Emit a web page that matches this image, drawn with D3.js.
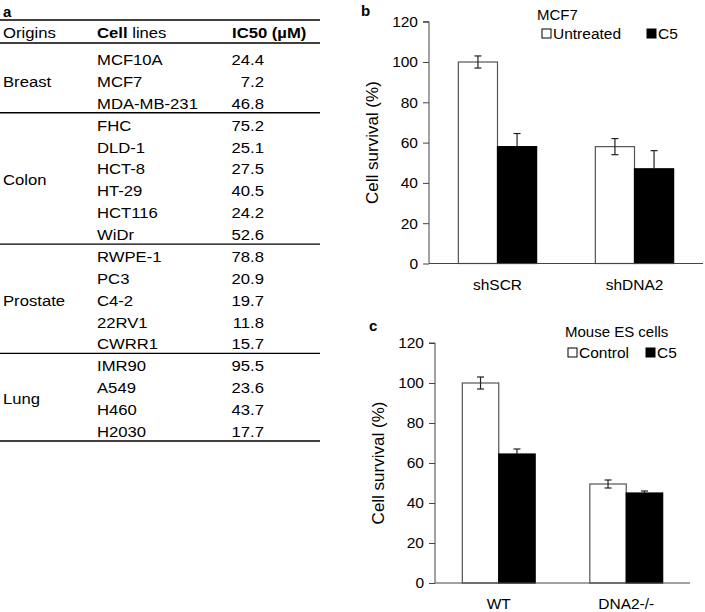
<!DOCTYPE html>
<html><head><meta charset="utf-8">
<script src="https://cdn.jsdelivr.net/npm/d3@7"></script>
<style>
html,body{margin:0;padding:0;background:#fff;}
svg{display:block;font-family:"Liberation Sans",Arial,Helvetica,sans-serif;}
</style></head>
<body>
<svg id="c" width="705" height="612"></svg>
<script>
// ---- Panel a data ----
const origins = ["Breast","Colon","Prostate","Lung"];
const cellLines = [
  ["MCF10A","MCF7","MDA-MB-231"],
  ["FHC","DLD-1","HCT-8","HT-29","HCT116","WiDr"],
  ["RWPE-1","PC3","C4-2","22RV1","CWRR1"],
  ["IMR90","A549","H460","H2030"]
];
const ic50 = [
  ["24.4","7.2","46.8"],
  ["75.2","25.1","27.5","40.5","24.2","52.6"],
  ["78.8","20.9","19.7","11.8","15.7"],
  ["95.5","23.6","43.7","17.7"]
];
// ---- Panel b data ----
const bCategories = ["shSCR","shDNA2"];
const bSeries = ["Untreated","C5"];
const bValues = [[100,58],[58,47]];
const bErrors = [[3,6.5],[4,9]];
// ---- Panel c data ----
const cCategories = ["WT","DNA2-/-"];
const cSeries = ["Control","C5"];
const cValues = [[100,64.5],[49.5,45]];
const cErrors = [[3,2.5],[2,1]];
const yTicks = [0,20,40,60,80,100,120];

const svg = d3.select("#c");
const FF = "'Liberation Sans',Arial,sans-serif";

// ================= Panel a =================
(function(){
  const g = svg.append("g");
  const rows = [];
  cellLines.forEach((grp,gi)=>grp.forEach((c,ci)=>rows.push({o:gi,c:c,v:ic50[gi][ci]})));
  const y = d3.scalePoint().domain(d3.range(rows.length)).range([60,432]);
  const fs = 14.5, sx = 1.15;
  const tx = (sel,x,yy)=>sel.attr("transform",`translate(${x},${yy}) scale(${sx},1)`);
  g.append("text").attr("x",3).attr("y",17).attr("font-size",15).attr("font-weight","bold").text("a");
  const hy = 38;
  tx(g.append("text").attr("font-size",fs).text("Origins"),3,hy);
  const t2 = tx(g.append("text").attr("font-size",fs),97,hy);
  t2.append("tspan").attr("font-weight","bold").text("Cell");
  t2.append("tspan").text(" lines");
  tx(g.append("text").attr("font-size",fs).attr("font-weight","bold").text("IC50 (µM)"),232,hy);
  const line = (yy,w)=>g.append("line").attr("x1",0).attr("x2",320).attr("y1",yy).attr("y2",yy).attr("stroke","#000").attr("stroke-width",w);
  line(20,1.6); line(43,1.3);
  g.selectAll("text.cl").data(rows).join("text").attr("class","cl")
    .attr("transform",(d,i)=>`translate(97,${y(i)+5}) scale(${sx},1)`).attr("font-size",fs).text(d=>d.c);
  g.selectAll("text.v").data(rows).join("text").attr("class","v")
    .attr("text-anchor","end")
    .attr("transform",(d,i)=>`translate(264,${y(i)+5}) scale(${sx},1)`).attr("font-size",fs).text(d=>d.v);
  let idx=0;
  origins.forEach((o,gi)=>{
    const n = cellLines[gi].length;
    const mid = (y(idx)+y(idx+n-1))/2;
    tx(g.append("text").attr("font-size",fs).text(o),3,mid+5);
    idx += n;
    line(y(idx-1)+9, gi===origins.length-1?1.6:1.3);
  });
})();

// ================= Bar panels =================
function barPanel(opt){
  const g = svg.append("g");
  const y = d3.scaleLinear().domain([0,120]).range([opt.y0,opt.y1]);
  const x0 = d3.scaleBand().domain(opt.cats).range([opt.xl,opt.xr]);
  const x1 = d3.scaleBand().domain(opt.series).range([0,x0.bandwidth()]).paddingOuter(0.75);
  // y axis
  const ax = g.append("g").attr("transform",`translate(${opt.xl},0)`)
    .call(d3.axisLeft(y).tickValues(yTicks).tickSize(6).tickPadding(5));
  ax.select(".domain").attr("stroke","#444").attr("d",`M-6,${y(120)}H0V${y(0)}`);
  ax.selectAll(".tick line").attr("stroke","#444");
  ax.selectAll(".tick text").attr("font-size",15.5).attr("fill","#000").attr("font-family",FF);
  // bars
  opt.cats.forEach((c,ci)=>{
    opt.series.forEach((s,si)=>{
      const v = opt.values[ci][si], e = opt.errors[ci][si];
      const bx = x0(c)+x1(s), bw = x1.bandwidth();
      g.append("rect").attr("x",bx).attr("y",y(v)).attr("width",bw).attr("height",y(0)-y(v))
        .attr("fill",si===0?"#fff":"#000").attr("stroke",si===0?"#555":"#000").attr("stroke-width",1.2);
      const cx = bx+bw/2;
      g.append("line").attr("x1",cx).attr("x2",cx).attr("y1",y(v+e)).attr("y2",si===0?y(v-e):y(v))
        .attr("stroke","#222").attr("stroke-width",1.2);
      g.append("line").attr("x1",cx-3.5).attr("x2",cx+3.5).attr("y1",y(v+e)).attr("y2",y(v+e))
        .attr("stroke","#222").attr("stroke-width",1.2);
      if(si===0) g.append("line").attr("x1",cx-3.5).attr("x2",cx+3.5).attr("y1",y(v-e)).attr("y2",y(v-e))
        .attr("stroke","#222").attr("stroke-width",1.2);
    });
  });
  // x axis
  const xa = g.append("g").attr("transform",`translate(0,${y(0)})`).call(d3.axisBottom(x0).tickSize(0).tickPadding(15));
  xa.select(".domain").attr("stroke","#444").attr("d",`M${opt.xl},0H${opt.xr}`);
  xa.selectAll(".tick text").attr("font-size",15.5).attr("fill","#000").attr("font-family",FF);
  // y title
  g.append("text").attr("transform",`translate(${opt.tx},${(y(0)+y(120))/2}) rotate(-90)`)
    .attr("text-anchor","middle").attr("dominant-baseline","central").attr("font-size",17).text("Cell survival (%)");
  // panel letter
  g.append("text").attr("x",opt.lx).attr("y",opt.ly).attr("font-size",15).attr("font-weight","bold").text(opt.letter);
  // legend
  g.append("text").attr("x",opt.legTitleX).attr("y",opt.legTitleY).attr("font-size",15).text(opt.legTitle);
  opt.series.forEach((s,si)=>{
    const lx = opt.legX[si];
    g.append("rect").attr("x",lx).attr("y",opt.legY-5).attr("width",9).attr("height",9)
      .attr("fill",si===0?"#fff":"#000").attr("stroke","#000").attr("stroke-width",1);
    g.append("text").attr("x",lx+11).attr("y",opt.legY+5).attr("font-size",15.5).text(s);
  });
}

barPanel({cats:bCategories,series:bSeries,values:bValues,errors:bErrors,
  y0:263.5,y1:21.7,xl:429,xr:703,tx:372,letter:"b",lx:361,ly:16,
  legTitle:"MCF7",legTitleX:537,legTitleY:20,legX:[542,647],legY:34});
barPanel({cats:cCategories,series:cSeries,values:cValues,errors:cErrors,
  y0:583,y1:343,xl:435,xr:690,tx:378,letter:"c",lx:369,ly:331,
  legTitle:"Mouse ES cells",legTitleX:565,legTitleY:337,legX:[568,646],legY:353});
</script>
</body></html>
